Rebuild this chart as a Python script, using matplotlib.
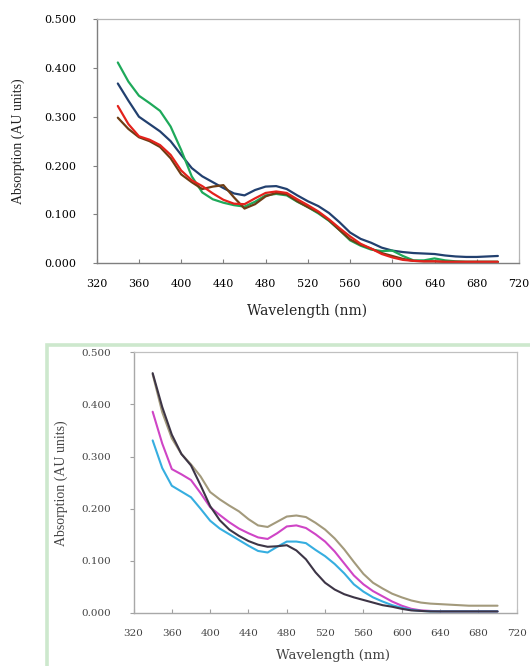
import matplotlib
matplotlib.use("Agg")
import matplotlib.pyplot as plt
from matplotlib.patches import Rectangle

# ---------------- data ----------------
wavelength = [340, 350, 360, 370, 380, 390, 400, 410, 420, 430, 440, 450, 460,
              470, 480, 490, 500, 510, 520, 530, 540, 550, 560, 570, 580, 590,
              600, 610, 620, 630, 640, 650, 660, 670, 680, 690, 700]

# top panel
top_blue = [0.368, 0.333, 0.300, 0.285, 0.270, 0.250, 0.222, 0.195, 0.178, 0.166,
            0.154, 0.143, 0.139, 0.150, 0.157, 0.158, 0.152, 0.139, 0.127, 0.117,
            0.103, 0.084, 0.063, 0.050, 0.042, 0.032, 0.026, 0.023, 0.021, 0.020,
            0.019, 0.016, 0.014, 0.013, 0.013, 0.014, 0.015]
top_green = [0.411, 0.372, 0.343, 0.328, 0.312, 0.280, 0.232, 0.178, 0.145, 0.131,
             0.124, 0.119, 0.116, 0.126, 0.139, 0.142, 0.139, 0.126, 0.115, 0.102,
             0.087, 0.068, 0.047, 0.036, 0.028, 0.025, 0.026, 0.015, 0.006, 0.006,
             0.010, 0.006, 0.004, 0.003, 0.003, 0.003, 0.003]
top_red = [0.322, 0.285, 0.260, 0.253, 0.242, 0.222, 0.190, 0.170, 0.158, 0.143,
           0.130, 0.122, 0.121, 0.133, 0.144, 0.147, 0.144, 0.131, 0.119, 0.106,
           0.090, 0.072, 0.055, 0.040, 0.030, 0.019, 0.012, 0.007, 0.005, 0.004,
           0.004, 0.003, 0.003, 0.003, 0.003, 0.003, 0.003]
top_brown = [0.298, 0.275, 0.258, 0.250, 0.238, 0.215, 0.182, 0.166, 0.152, 0.157,
             0.160, 0.135, 0.112, 0.121, 0.137, 0.144, 0.141, 0.127, 0.115, 0.104,
             0.088, 0.068, 0.049, 0.038, 0.030, 0.021, 0.015, 0.009, 0.005, 0.004,
             0.004, 0.003, 0.003, 0.003, 0.003, 0.003, 0.003]

# bottom panel
bot_dark = [0.460, 0.395, 0.342, 0.305, 0.283, 0.245, 0.205, 0.178, 0.160, 0.148,
            0.138, 0.131, 0.127, 0.128, 0.130, 0.120, 0.103, 0.078, 0.058, 0.045,
            0.036, 0.030, 0.025, 0.020, 0.015, 0.012, 0.008, 0.005, 0.004, 0.003,
            0.003, 0.003, 0.003, 0.003, 0.003, 0.003, 0.003]
bot_tan = [0.458, 0.385, 0.335, 0.305, 0.285, 0.262, 0.232, 0.218, 0.206, 0.195,
           0.180, 0.168, 0.165, 0.175, 0.185, 0.187, 0.184, 0.173, 0.160, 0.143,
           0.122, 0.098, 0.075, 0.058, 0.047, 0.037, 0.030, 0.024, 0.020, 0.018,
           0.017, 0.016, 0.015, 0.014, 0.014, 0.014, 0.014]
bot_magenta = [0.386, 0.325, 0.276, 0.266, 0.255, 0.230, 0.203, 0.188, 0.174, 0.162,
               0.153, 0.145, 0.142, 0.153, 0.166, 0.168, 0.163, 0.151, 0.137, 0.118,
               0.095, 0.072, 0.055, 0.042, 0.032, 0.022, 0.014, 0.008, 0.005, 0.004,
               0.003, 0.003, 0.003, 0.003, 0.003, 0.003, 0.003]
bot_cyan = [0.331, 0.278, 0.244, 0.233, 0.222, 0.200, 0.177, 0.162, 0.151, 0.140,
            0.129, 0.119, 0.116, 0.127, 0.137, 0.137, 0.134, 0.121, 0.109, 0.094,
            0.076, 0.055, 0.041, 0.030, 0.022, 0.015, 0.010, 0.006, 0.004, 0.003,
            0.003, 0.003, 0.003, 0.003, 0.003, 0.003, 0.003]

x_ticks = [320, 360, 400, 440, 480, 520, 560, 600, 640, 680, 720]
y_ticks = [0.0, 0.1, 0.2, 0.3, 0.4, 0.5]
y_ticklabels = ["0.000", "0.100", "0.200", "0.300", "0.400", "0.500"]
x_label = "Wavelength (nm)"
y_label = "Absorption (AU units)"

# ---------------- figure ----------------
W, H = 530, 666
fig = plt.figure(figsize=(W / 100, H / 100), dpi=100)
fig.patch.set_facecolor("white")

def fx(px):
    return px / W

def fy(py):
    return 1 - py / H

# green frame around lower panel
fig.patches.append(Rectangle((fx(47), fy(700)), 1.2, fy(345) - fy(700),
                             transform=fig.transFigure, facecolor="none",
                             edgecolor="#cde8cd", linewidth=2.6, zorder=0))

tick_font = dict(family="DejaVu Serif", size=8)
line_kw = dict(solid_joinstyle="round", solid_capstyle="round")

# ---------- top axes ----------
ax1 = fig.add_axes([fx(96.7), fy(263.3), fx(519) - fx(96.7), fy(19) - fy(263.3)])
ax1.plot(wavelength, top_blue, color="#22406f", lw=1.6, **line_kw)
ax1.plot(wavelength, top_green, color="#1ea95a", lw=1.6, **line_kw)
ax1.plot(wavelength, top_brown, color="#6e3d14", lw=1.6, **line_kw)
ax1.plot(wavelength, top_red, color="#e3221c", lw=1.6, **line_kw)
ax1.set_xlim(320, 720)
ax1.set_ylim(0, 0.5)
ax1.set_xticks(x_ticks)
ax1.set_xticklabels([str(t) for t in x_ticks], **tick_font)
ax1.set_yticks(y_ticks)
ax1.set_yticklabels(y_ticklabels, **tick_font)
ax1.tick_params(axis="x", direction="in", length=3, width=0.8, color="#808080", pad=11)
ax1.tick_params(axis="y", direction="out", length=3, width=0.8, color="#808080", pad=12)
for s in ["left", "bottom"]:
    ax1.spines[s].set_color("#7f7f7f")
    ax1.spines[s].set_linewidth(1.0)
for s in ["top", "right"]:
    ax1.spines[s].set_color("#b5b5b5")
    ax1.spines[s].set_linewidth(0.9)
fig.text(fx(307.5), fy(310.7), x_label, family="DejaVu Serif", fontsize=10,
         ha="center", va="center", color="#222222")
fig.text(fx(18.6), fy(141), y_label, family="Liberation Serif", fontsize=10,
         rotation=90, ha="center", va="center", color="#222222")

# ---------- bottom axes ----------
ax2 = fig.add_axes([fx(133.5), fy(613), fx(516.7) - fx(133.5), fy(352.3) - fy(613)])
ax2.plot(wavelength, bot_tan, color="#a39a7c", lw=1.5, **line_kw)
ax2.plot(wavelength, bot_magenta, color="#cf45c6", lw=1.5, **line_kw)
ax2.plot(wavelength, bot_cyan, color="#36aee0", lw=1.5, **line_kw)
ax2.plot(wavelength, bot_dark, color="#3d3546", lw=1.5, **line_kw)
ax2.set_xlim(320, 720)
ax2.set_ylim(0, 0.5)
ax2.set_xticks(x_ticks)
ax2.set_xticklabels([str(t) for t in x_ticks], family="DejaVu Serif", size=7.5,
                    color="#444444")
ax2.set_yticks(y_ticks)
ax2.set_yticklabels(y_ticklabels, family="DejaVu Serif", size=7.5, color="#444444")
ax2.tick_params(axis="x", direction="in", length=3, width=0.8, color="#a0a0a0", pad=11.5)
ax2.tick_params(axis="y", direction="out", length=3, width=0.8, color="#a0a0a0", pad=13)
for s in ["left", "bottom"]:
    ax2.spines[s].set_color("#a8a8a8")
    ax2.spines[s].set_linewidth(1.0)
for s in ["top", "right"]:
    ax2.spines[s].set_color("#c0c0c0")
    ax2.spines[s].set_linewidth(0.9)
fig.text(fx(333), fy(656), x_label, family="DejaVu Serif", fontsize=9.5,
         ha="center", va="center", color="#444444")
fig.text(fx(61), fy(483), y_label, family="Liberation Serif", fontsize=10,
         rotation=90, ha="center", va="center", color="#444444")

fig.savefig("out.png", dpi=100, facecolor="white")
